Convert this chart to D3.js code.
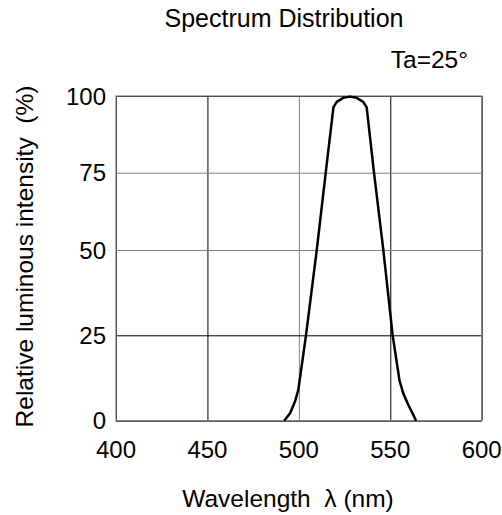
<!DOCTYPE html>
<html>
<head>
<meta charset="utf-8">
<script src="https://cdn.jsdelivr.net/npm/d3@7"></script>
<style>
  body { margin: 0; background: #fff; }
  svg text { font-family: "Liberation Sans", Arial, sans-serif; fill: #000; }
</style>
</head>
<body>
<svg id="chart" width="502" height="515"></svg>
<script>
// wavelength (nm) and relative intensity (%)
const wavelength = [492.0, 495.2, 497.9, 499.7, 501.0, 503.9, 509.8, 514.7, 518.9, 520.7, 524.3, 528.0,
                    531.6, 535.2, 537.1, 541.1, 546.2, 551.3, 555.0, 557.1, 559.9, 562.6, 564.1];
const intensity = [0, 2.2, 5.6, 9.0, 13.9, 25, 50, 75, 96.3, 98.1, 99.4, 99.8,
                   99.4, 98.1, 96.3, 75, 50, 25, 11.9, 8, 4.6, 1.7, 0];
const xTicks = [400, 450, 500, 550, 600];
const yTicks = [0, 25, 50, 75, 100];

const svg = d3.select("#chart");
const plotLeft = 116, plotRight = 481.7, plotTop = 96, plotBottom = 420.7;

const x = d3.scaleLinear().domain([400, 600]).range([plotLeft, plotRight]);
// the grid in the original is not evenly spaced, so the y scale is piecewise
const y = d3.scaleLinear().domain(yTicks).range([420.7, 335.3, 250, 172.7, 96]);

const gridColor = ["#000", "#000", "#808080", "#000", "#000"];
const hGridColor = ["#000", "#000", "#808080", "#808080", "#000"];

// vertical grid
svg.append("g")
  .attr("transform", "translate(0," + plotBottom + ")")
  .call(d3.axisBottom(x).tickValues(xTicks).tickSize(-(plotBottom - plotTop)).tickFormat(""))
  .call(g => g.select(".domain").remove())
  .call(g => g.selectAll(".tick line").attr("stroke", (d, i) => gridColor[i]).attr("stroke-width", 1));

// horizontal grid
svg.append("g")
  .attr("transform", "translate(" + plotLeft + ",0)")
  .call(d3.axisLeft(y).tickValues(yTicks).tickSize(-(plotRight - plotLeft)).tickFormat(""))
  .call(g => g.select(".domain").remove())
  .call(g => g.selectAll(".tick line").attr("stroke", (d, i) => hGridColor[i]).attr("stroke-width", 1));

// frame
svg.append("rect")
  .attr("x", plotLeft).attr("y", plotTop)
  .attr("width", plotRight - plotLeft).attr("height", plotBottom - plotTop)
  .attr("fill", "none").attr("stroke", "#808080").attr("stroke-width", 1.2);

// tick labels
svg.append("g").selectAll("text").data(yTicks).join("text")
  .attr("x", 106).attr("y", d => y(d)).attr("dy", "0.36em")
  .attr("text-anchor", "end").style("font-size", "24px")
  .text(d => d);

svg.append("g").selectAll("text").data(xTicks).join("text")
  .attr("x", d => x(d)).attr("y", 458)
  .attr("text-anchor", "middle").style("font-size", "24px")
  .text(d => d);

// spectrum curve
const line = d3.line()
  .x((d, i) => x(wavelength[i]))
  .y(d => y(d));

svg.append("path")
  .attr("d", line(intensity))
  .attr("fill", "none")
  .attr("stroke", "#000")
  .attr("stroke-width", 2.5)
  .attr("stroke-linejoin", "round");

// titles
svg.append("text").attr("x", 284).attr("y", 27).attr("text-anchor", "middle")
  .style("font-size", "25px").text("Spectrum Distribution");

svg.append("text").attr("x", 468).attr("y", 68).attr("text-anchor", "end")
  .style("font-size", "24.5px").text("Ta=25°");

svg.append("text").attr("x", 288).attr("y", 507).attr("text-anchor", "middle")
  .style("font-size", "24.5px").style("white-space", "pre").attr("xml:space", "preserve")
  .text("Wavelength  λ (nm)");

svg.append("text")
  .attr("transform", "translate(33,256.5) rotate(-90)")
  .attr("text-anchor", "middle")
  .style("font-size", "24.5px").style("white-space", "pre").attr("xml:space", "preserve")
  .text("Relative luminous intensity  (%)");
</script>
</body>
</html>
